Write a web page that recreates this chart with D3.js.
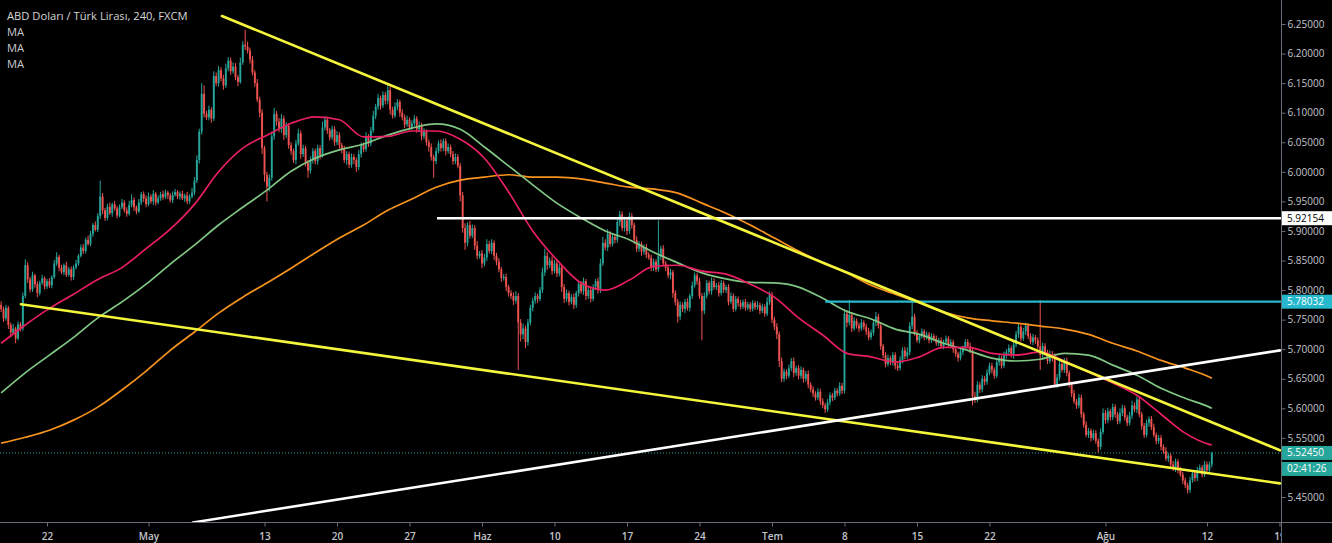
<!DOCTYPE html>
<html><head><meta charset="utf-8">
<script src="https://cdn.jsdelivr.net/npm/d3@7"></script>
<style>
html,body{margin:0;padding:0;background:#000;}
svg{display:block;}
text{font-family:"Open Sans","Liberation Sans",sans-serif;}
</style></head><body>
<svg id="chart" width="1332" height="543"></svg>
<script>
// ---------- DATA (USD/TRY, 240 min bars, FXCM) ----------
const title = "ABD Doları / Türk Lirası, 240, FXCM";
const legendItems = ["MA", "MA", "MA"];
const firstOpen = 5.775;
const closes = [
5.768,5.752,5.770,5.741,5.728,5.735,5.718,5.742,5.735,5.790,
5.842,5.818,5.801,5.825,5.810,5.795,5.812,5.820,5.806,5.815,
5.808,5.822,5.845,5.856,5.838,5.830,5.842,5.826,5.835,5.822,
5.838,5.845,5.858,5.872,5.866,5.885,5.878,5.895,5.910,5.902,
5.925,5.958,5.935,5.922,5.941,5.930,5.945,5.938,5.926,5.940,
5.948,5.935,5.929,5.944,5.952,5.940,5.933,5.948,5.962,5.955,
5.945,5.958,5.950,5.963,5.948,5.955,5.962,5.957,5.965,5.960,
5.952,5.961,5.966,5.958,5.963,5.955,5.960,5.950,5.958,5.965,
5.985,6.020,6.068,6.132,6.098,6.092,6.105,6.090,6.162,6.150,
6.172,6.158,6.146,6.175,6.188,6.170,6.178,6.160,6.152,6.185,
6.215,6.212,6.205,6.190,6.168,6.150,6.122,6.100,6.040,5.995,
5.975,5.990,6.060,6.098,6.085,6.072,6.090,6.062,6.078,6.045,
6.035,6.020,6.048,6.065,6.030,6.040,6.015,6.002,6.020,6.035,
6.018,6.040,6.028,6.075,6.088,6.070,6.058,6.072,6.050,6.062,
6.045,6.038,6.020,6.030,6.012,6.025,6.020,6.008,6.030,6.045,
6.038,6.060,6.048,6.070,6.095,6.110,6.125,6.112,6.130,6.120,
6.138,6.105,6.095,6.110,6.118,6.100,6.092,6.080,6.088,6.075,
6.082,6.090,6.072,6.078,6.060,6.068,6.050,6.042,6.025,6.018,
6.035,6.048,6.040,6.052,6.035,6.042,6.030,6.018,6.025,6.010,
5.960,5.905,5.880,5.910,5.892,5.905,5.875,5.858,5.862,5.845,
5.855,5.878,5.866,5.880,5.858,5.848,5.835,5.820,5.822,5.805,
5.795,5.790,5.782,5.790,5.745,5.725,5.735,5.712,5.745,5.770,
5.782,5.790,5.785,5.800,5.830,5.858,5.842,5.850,5.832,5.845,
5.828,5.838,5.805,5.785,5.795,5.780,5.788,5.775,5.795,5.810,
5.798,5.815,5.790,5.800,5.785,5.805,5.815,5.800,5.845,5.880,
5.872,5.895,5.878,5.890,5.885,5.915,5.928,5.905,5.918,5.900,
5.925,5.910,5.885,5.870,5.878,5.865,5.872,5.860,5.855,5.838,
5.848,5.835,5.858,5.870,5.845,5.838,5.825,5.830,5.795,5.780,
5.755,5.775,5.768,5.780,5.770,5.790,5.808,5.825,5.815,5.790,
5.765,5.790,5.812,5.798,5.815,5.805,5.808,5.795,5.812,5.800,
5.805,5.780,5.790,5.768,5.785,5.778,5.772,5.780,5.770,5.776,
5.768,5.778,5.771,5.775,5.765,5.772,5.760,5.780,5.792,5.750,
5.738,5.725,5.680,5.650,5.662,5.655,5.668,5.680,5.660,5.668,
5.655,5.665,5.650,5.658,5.640,5.632,5.625,5.618,5.628,5.612,
5.605,5.598,5.610,5.622,5.618,5.630,5.625,5.638,5.630,5.760,
5.745,5.758,5.735,5.748,5.740,5.735,5.745,5.738,5.730,5.720,
5.728,5.745,5.755,5.740,5.705,5.690,5.675,5.685,5.678,5.690,
5.672,5.668,5.682,5.698,5.688,5.695,5.740,5.755,5.728,5.715,
5.722,5.730,5.720,5.725,5.715,5.722,5.718,5.710,5.715,5.705,
5.712,5.718,5.708,5.712,5.700,5.692,5.685,5.695,5.702,5.712,
5.705,5.698,5.620,5.615,5.640,5.632,5.650,5.645,5.660,5.672,
5.665,5.655,5.678,5.685,5.672,5.690,5.695,5.702,5.690,5.708,
5.725,5.738,5.718,5.730,5.740,5.722,5.712,5.720,5.715,5.705,
5.690,5.705,5.695,5.680,5.692,5.685,5.640,5.652,5.675,5.665,
5.680,5.660,5.640,5.625,5.612,5.605,5.618,5.590,5.572,5.555,
5.562,5.550,5.558,5.545,5.535,5.560,5.592,5.580,5.595,5.585,
5.602,5.590,5.578,5.592,5.600,5.585,5.575,5.588,5.605,5.598,
5.615,5.590,5.570,5.555,5.575,5.582,5.568,5.555,5.545,5.550,
5.535,5.528,5.515,5.520,5.505,5.498,5.510,5.495,5.488,5.478,
5.470,5.462,5.478,5.490,5.482,5.495,5.500,5.488,5.505,5.495,
5.505,5.5245
];
// upper / lower wick lengths, in thousandths of a lira
const upperWick = [
6,4,5,3,4,8,3,5,4,6, 10,5,4,6,3,5,4,6,3,4, 5,3,6,8,4,5,3,6,4,5, 4,6,3,5,6,4,7,5,3,6,
5,27,6,4,5,7,3,6,4,5, 6,4,5,7,10,5,3,6,4,5, 5,7,4,6,3,5,4,6,5,3, 4,6,5,3,4,5,3,6,4,8,
6,8,5,18,14,5,7,4,8,6, 7,5,6,8,6,5,7,6,4,8, 6,25,8,5,6,4,7,5,6,4, 5,6,8,10,5,6,8,5,6,4,
5,4,6,8,5,6,4,5,6,5, 4,6,5,10,6,5,4,6,5,7, 5,4,6,5,4,6,5,4,7,5, 5,7,4,6,8,5,7,4,6,5,
12,6,5,7,5,4,6,5,7,4, 5,6,4,7,5,6,4,5,6,4, 6,5,7,4,5,6,4,5,6,5, 5,6,8,5,7,6,5,8,4,6,
6,8,5,6,4,5,6,4,5,6, 4,5,6,8,5,6,8,5,6,5, 5,6,4,5,8,12,6,5,7,6, 5,6,4,5,6,4,5,6,4,5,
5,6,4,5,6,5,4,6,8,10, 6,8,5,6,5,8,6,5,6,4, 6,5,4,6,5,4,5,6,4,5, 5,4,60,5,6,4,5,6,4,5,
5,6,4,5,6,4,6,5,4,6, 5,6,5,4,6,5,4,6,5,4, 4,5,6,4,5,4,5,4,5,4, 4,5,4,6,4,5,4,8,6,5,
5,6,5,6,5,4,6,5,6,4, 5,6,4,5,6,4,5,4,6,5, 5,4,6,5,4,5,4,6,5,8, 6,25,5,6,4,5,6,4,5,6,
5,6,8,5,6,4,5,6,4,5, 5,4,6,5,6,8,6,28,5,4, 4,5,4,5,4,5,4,5,4,5, 4,5,4,5,4,5,4,5,4,5,
5,6,5,8,6,5,6,5,6,5, 5,4,6,5,4,6,5,6,4,5, 6,5,4,6,5,4,5,6,4,5, 78,6,5,4,6,5,8,6,5,6,
5,6,4,5,6,4,6,5,4,6, 5,4,6,5,4,6,8,5,6,4, 6,5,4,8,6,5,4,6,8,5, 5,6,4,5,6,4,5,6,4,5,
5,4,6,5,4,6,5,4,6,5, 5,4,6,5,4,6,5,4,6,5, 5,2
];
const lowerWick = [
5,6,4,7,8,4,8,3,5,4, 4,6,5,4,6,7,4,3,5,4, 4,5,3,4,6,3,5,4,3,6, 5,3,4,3,5,4,3,4,5,3,
4,5,7,5,4,3,6,4,5,3, 3,4,5,3,4,6,5,3,4,6, 5,3,4,6,5,3,4,5,3,6, 4,5,3,4,5,3,6,5,4,3,
5,4,6,5,6,4,5,7,4,5, 6,5,7,4,5,6,4,5,7,3, 4,6,5,7,5,6,4,8,10,12, 25,8,5,6,7,5,6,8,5,6,
6,5,7,4,8,5,6,12,5,6, 5,6,7,4,5,6,5,4,6,5, 6,7,5,8,6,5,7,8,5,6, 5,4,6,5,4,6,5,7,4,6,
6,8,5,4,6,7,5,6,4,5, 4,5,6,5,7,5,6,8,6,28, 5,4,6,5,7,4,5,6,5,4, 10,8,12,6,5,4,7,6,5,8,
5,6,4,5,7,6,5,6,4,7, 6,5,7,5,80,12,8,10,6,5, 6,5,7,4,5,6,8,5,6,4, 6,5,8,7,5,6,4,7,5,6,
5,6,7,5,6,4,5,6,5,4, 5,6,5,4,6,5,7,5,6,7, 5,6,7,6,5,7,5,6,4,6, 6,5,4,7,5,6,5,7,8,6,
10,6,5,7,5,6,5,4,6,5, 50,6,4,5,6,4,5,6,4,5, 5,6,4,5,4,6,5,4,5,4, 5,4,5,4,6,4,5,4,5,6,
6,8,10,6,5,6,4,5,7,5, 6,5,7,5,6,5,6,5,4,6, 5,6,4,5,6,4,5,4,6,5, 8,5,6,4,5,6,4,5,6,5,
4,5,6,5,6,5,6,4,5,6, 6,5,4,6,5,4,5,6,5,4, 5,4,5,4,5,4,5,4,5,4, 5,4,5,4,6,5,6,4,5,4,
4,5,15,6,5,6,5,6,5,4, 6,5,4,6,5,4,6,5,4,6, 5,6,5,4,6,5,4,5,6,5, 25,5,6,5,4,6,5,6,5,4,
5,6,5,6,4,6,5,6,5,4, 5,6,4,5,10,5,4,6,5,6, 5,6,5,4,5,6,5,4,6,5, 6,5,6,5,4,6,5,4,6,5,
6,5,4,6,5,4,6,5,4,6, 5,6,5,4,6,5,4,5,4,6, 6,5
];
// moving averages, sampled at bar indices
const maBars = [0,10,20,30,40,50,60,70,80,90,100,110,120,130,140,150,160,170,180,190,200,
  210,220,230,240,250,260,270,280,290,300,310,320,330,340,350,360,370,380,390,400,
  410,420,430,440,450,460,470,480,490,500,501];
const maFast = [5.710,5.741,5.769,5.793,5.818,5.838,5.870,5.903,5.945,6.000,6.040,
  6.062,6.082,6.093,6.088,6.059,6.060,6.069,6.069,6.055,6.023,5.966,5.900,5.851,5.812,
  5.800,5.817,5.840,5.842,5.832,5.827,5.810,5.788,5.753,5.724,5.693,5.687,5.678,5.687,
  5.703,5.703,5.693,5.690,5.695,5.680,5.661,5.643,5.622,5.590,5.558,5.539,5.538];
const maMid = [5.626,5.660,5.690,5.720,5.753,5.780,5.810,5.844,5.876,5.910,5.940,
  5.969,6.001,6.023,6.037,6.047,6.062,6.074,6.081,6.072,6.042,6.010,5.978,5.947,5.922,
  5.900,5.885,5.864,5.846,5.829,5.819,5.813,5.812,5.805,5.786,5.764,5.751,5.734,5.725,
  5.710,5.698,5.685,5.680,5.683,5.693,5.690,5.673,5.656,5.634,5.617,5.602,5.600];
const maSlow = [5.541,5.551,5.563,5.580,5.602,5.631,5.663,5.698,5.729,5.761,5.788,
  5.812,5.837,5.863,5.888,5.910,5.935,5.954,5.974,5.986,5.991,5.995,5.991,5.991,5.988,
  5.981,5.974,5.971,5.964,5.947,5.930,5.910,5.888,5.866,5.846,5.829,5.808,5.793,5.778,
  5.763,5.753,5.748,5.744,5.739,5.734,5.725,5.710,5.697,5.681,5.668,5.653,5.651];
// drawn trend lines: [bar index, price]
const trendUpper = [[91.4, 6.2635], [529.2, 5.529]];
const trendLower = [[8.2, 5.776], [529.2, 5.473]];
const trendRising = [[79.4, 5.407], [529.2, 5.698]];
const levelPrices = [5.92154, 5.78032];
const levelStartBars = [180.4, 341];
const lastPrice = 5.5245;
const lastPriceLabel = "5.52450";
const countdown = "02:41:26";
// axes
const xTickBars = [19, 61, 109, 139, 169, 199, 229, 259, 289, 319, 349, 379, 409, 457, 499, 529];
const xTickLabels = ["22", "May", "13", "20", "27", "Haz", "10", "17", "24", "Tem", "8", "15", "22", "Ağu", "12", "19"];
const priceTicks = [6.25, 6.20, 6.15, 6.10, 6.05, 6.00, 5.95, 5.90, 5.85, 5.80, 5.75, 5.70, 5.65, 5.60, 5.55, 5.45];

// ---------- LAYOUT ----------
const W = 1332, H = 543, plotR = 1281, plotB = 522;
const svg = d3.select("#chart");
svg.append("rect").attr("width", W).attr("height", H).attr("fill", "#000");

const x = d3.scaleLinear().domain([0, closes.length - 1]).range([1.1, 1211.8]);
const y = d3.scaleLinear().domain([5.45, 6.25]).range([497, 24]);

svg.append("defs").append("clipPath").attr("id", "plotclip")
  .append("rect").attr("x", 0).attr("y", 0).attr("width", plotR).attr("height", plotB);
const plot = svg.append("g").attr("clip-path", "url(#plotclip)");

// candles
const candles = closes.map((c, i) => {
  const o = i === 0 ? firstOpen : closes[i - 1];
  const hi = Math.max(o, c) + upperWick[i] / 1000;
  const lo = Math.min(o, c) - lowerWick[i] / 1000;
  return {i, o, c, hi, lo, up: c >= o};
});
const UP = "#26a69a", DOWN = "#ef5350";
const cg = plot.append("g");
cg.selectAll("line").data(candles).join("line")
  .attr("x1", d => x(d.i)).attr("x2", d => x(d.i))
  .attr("y1", d => y(d.hi)).attr("y2", d => y(d.lo))
  .attr("stroke", d => d.up ? UP : DOWN).attr("stroke-width", 1);
cg.selectAll("rect").data(candles).join("rect")
  .attr("x", d => x(d.i) - 0.95).attr("width", 1.9)
  .attr("y", d => y(Math.max(d.o, d.c)))
  .attr("height", d => Math.max(0.8, Math.abs(y(d.o) - y(d.c))))
  .attr("fill", d => d.up ? UP : DOWN);

// moving averages
const maLine = d3.line().x(d => x(d[0])).y(d => y(d[1])).curve(d3.curveMonotoneX);
[[maSlow, "#f7931e"], [maMid, "#81c784"], [maFast, "#e91e63"]].forEach(([vals, col]) => {
  plot.append("path").datum(maBars.map((b, k) => [b, vals[k]]))
    .attr("d", maLine).attr("fill", "none").attr("stroke", col).attr("stroke-width", 1.7);
});

// last price dotted line
plot.append("line").attr("x1", 0).attr("x2", plotR).attr("y1", y(lastPrice)).attr("y2", y(lastPrice))
  .attr("stroke", UP).attr("stroke-width", 1).attr("stroke-dasharray", "1,2");

// horizontal levels
const levelColors = ["#ffffff", "#26b8cc"];
levelPrices.forEach((p, k) => {
  plot.append("line").attr("x1", x(levelStartBars[k])).attr("x2", plotR)
    .attr("y1", y(p)).attr("y2", y(p))
    .attr("stroke", levelColors[k]).attr("stroke-width", k === 0 ? 2.5 : 2.2);
});

// trend lines
const tl = d3.line().x(d => x(d[0])).y(d => y(d[1]));
[[trendUpper, "#f5f53c"], [trendLower, "#f5f53c"], [trendRising, "#ffffff"]].forEach(([pts, col]) => {
  plot.append("path").datum(pts).attr("d", tl).attr("fill", "none")
    .attr("stroke", col).attr("stroke-width", 2.6).attr("stroke-linecap", "round");
});

// axis frame lines
const AX = "#6b6e78";
svg.append("line").attr("x1", plotR + 0.5).attr("x2", plotR + 0.5).attr("y1", 0).attr("y2", H)
  .attr("stroke", AX).attr("stroke-width", 1);
svg.append("line").attr("x1", 0).attr("x2", W).attr("y1", plotB + 0.5).attr("y2", plotB + 0.5)
  .attr("stroke", AX).attr("stroke-width", 1);

// right price axis
const yAxis = d3.axisRight(y).tickValues(priceTicks).tickFormat(d3.format(".5f")).tickSize(4).tickPadding(2);
const gy = svg.append("g").attr("transform", `translate(${plotR + 0.5},0)`).call(yAxis);
gy.select(".domain").remove();
gy.selectAll(".tick line").attr("stroke", AX);
gy.selectAll(".tick text").attr("fill", "#c3c5cc").style("font-size", "10px")
  .style("font-family", '"Open Sans","Liberation Sans",sans-serif');

// bottom time axis
svg.append("defs").append("clipPath").attr("id", "xclip")
  .append("rect").attr("x", 0).attr("y", 0).attr("width", plotR).attr("height", H);
const xAxis = d3.axisBottom(x).tickValues(xTickBars).tickFormat((d, i) => xTickLabels[i]).tickSize(4).tickPadding(6);
const gx = svg.append("g").attr("clip-path", "url(#xclip)").append("g")
  .attr("transform", `translate(0,${plotB + 0.5})`).call(xAxis);
gx.select(".domain").remove();
gx.selectAll(".tick line").attr("stroke", AX);
gx.selectAll(".tick text").attr("fill", "#c3c5cc").style("font-size", "10px").style("font-weight", "600")
  .style("font-family", '"Open Sans","Liberation Sans",sans-serif');

// price labels on axis
function axisLabel(yc, text, bg, fg) {
  const g = svg.append("g");
  g.append("rect").attr("x", plotR + 1).attr("y", yc - 7).attr("width", W - plotR - 1).attr("height", 14).attr("fill", bg);
  g.append("text").attr("x", plotR + 6).attr("y", yc).attr("dy", "0.35em").attr("fill", fg)
    .style("font-size", "10px").text(text);
}
axisLabel(y(levelPrices[0]), levelPrices[0].toFixed(5), "#ffffff", "#000000");
axisLabel(y(levelPrices[1]), levelPrices[1].toFixed(5), "#26b8cc", "#ffffff");
axisLabel(y(lastPrice), lastPriceLabel, UP, "#ffffff");
axisLabel(y(lastPrice) + 16, countdown, UP, "#ffffff");

// legend
const lg = svg.append("g");
lg.append("text").attr("x", 7).attr("y", 19.5).attr("fill", "#d6d6d6").style("font-size", "11.2px").text(title);
legendItems.forEach((t, k) => {
  lg.append("text").attr("x", 7).attr("y", 35.5 + 16 * k).attr("fill", "#c8c8c8").style("font-size", "11.2px").text(t);
});
</script>
</body></html>
